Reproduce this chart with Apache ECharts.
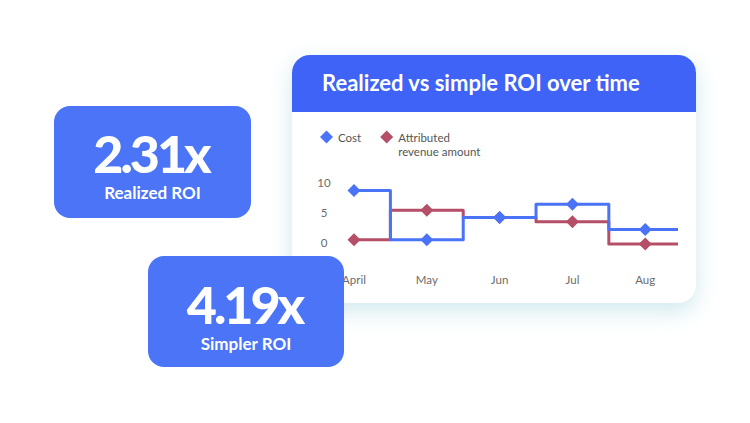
<!DOCTYPE html>
<html>
<head>
<meta charset="utf-8">
<script src="https://cdn.jsdelivr.net/npm/echarts@6/dist/echarts.min.js"></script>
<style>
  html, body { margin: 0; padding: 0; background: #ffffff; }
  body { width: 750px; height: 423px; position: relative; overflow: hidden; font-family: Lato, "Open Sans", sans-serif; }
  .panel {
    position: absolute; left: 292px; top: 55px; width: 404px; height: 248px;
    background: #ffffff; border-radius: 18px; overflow: hidden;
    box-shadow: 0 8px 22px rgba(150, 205, 215, 0.45);
  }
  .panel-head {
    position: absolute; left: 0; top: 0; width: 100%; height: 57px; background: #3e63f6;
  }
  .panel-head span {
    position: absolute; left: 30px; top: 14px; color: #ffffff;
    font-weight: 700; font-size: 22px; line-height: 28px; white-space: nowrap;
  }
  #chart { position: absolute; left: 0; top: 0; width: 750px; height: 423px; }
  .kpi {
    position: absolute; background: #4b74f7; border-radius: 16px; color: #ffffff; text-align: center;
  }
  .kpi .num { position: absolute; left: 0; width: 100%; font-weight: 900; font-size: 52px; line-height: 46px; letter-spacing: -3px; text-indent: -3px; }
  .kpi .cap { position: absolute; left: 0; width: 100%; font-weight: 700; font-size: 17px; line-height: 22px; }
</style>
</head>
<body>
<div class="panel"><div class="panel-head"><span>Realized vs simple ROI over time</span></div></div>
<div id="chart"></div>
<div class="kpi" style="left:54px;top:106px;width:197px;height:112px;">
  <div class="num" style="top:24px;">2.31x</div>
  <div class="cap" style="top:76px;">Realized ROI</div>
</div>
<div class="kpi" style="left:148px;top:256px;width:196px;height:111px;">
  <div class="num" style="top:25px;">4.19x</div>
  <div class="cap" style="top:77px;">Simpler ROI</div>
</div>
<script>
// Monthly values plotted as step lines
const months = ['April', 'May', 'Jun', 'Jul', 'Aug'];
const costValues = [8.7, 0.5, 4.2, 6.4, 2.2];
const revenueValues = [0.5, 5.4, 4.2, 3.5, -0.2];
const yTicks = [0, 5, 10];
const seriesNames = ['Cost', 'Attributed revenue amount'];

const X_END = 4.45; // the steps run on half a month past the last point

function stepData(values) {
  const pts = values.map((v, i) => [i, v]);
  pts.push({ value: [X_END, values[values.length - 1]], symbol: 'none' });
  return pts;
}

const chart = echarts.init(document.getElementById('chart'), null, { renderer: 'svg' });
chart.setOption({
  backgroundColor: 'transparent',
  animation: false,
  legend: {
    left: 320, top: 116, orient: 'horizontal', padding: 0,
    icon: 'diamond', itemWidth: 13, itemHeight: 13, itemGap: 19,
    textStyle: { fontFamily: 'Lato', fontSize: 11.5, color: '#555555', lineHeight: 14 },
    // the long name wraps under its marker: a blank first line keeps
    // the marker level with "Attributed"
    formatter: name => name === seriesNames[1] ? '\nAttributed\nrevenue amount' : name,
    data: seriesNames
  },
  grid: { left: 354, top: 182.7, width: 324, height: 60, containLabel: false },
  xAxis: {
    type: 'value', min: 0, max: X_END, interval: 1,
    axisLine: { show: false }, axisTick: { show: false }, splitLine: { show: false },
    axisLabel: {
      margin: 31, color: '#6b6b6b', fontFamily: 'Lato', fontSize: 11.5,
      formatter: v => (Number.isInteger(v) && months[v]) ? months[v] : ''
    }
  },
  yAxis: {
    type: 'value', min: 0, max: 10, interval: 5,
    axisLine: { show: false }, axisTick: { show: false }, splitLine: { show: false },
    axisLabel: {
      margin: 30, align: 'center', color: '#6b6b6b', fontFamily: 'Lato', fontSize: 11.5,
      formatter: v => yTicks.includes(v) ? String(v) : ''
    }
  },
  series: [
    {
      name: seriesNames[1], type: 'line', step: 'middle', clip: false,
      data: stepData(revenueValues),
      symbol: 'diamond', symbolSize: 13,
      lineStyle: { width: 3, color: '#b54e67', join: 'round' },
      itemStyle: { color: '#b54e67' }
    },
    {
      name: seriesNames[0], type: 'line', step: 'middle', clip: false,
      data: stepData(costValues),
      symbol: 'diamond', symbolSize: 13,
      lineStyle: { width: 3, color: '#4a73f8', join: 'round' },
      itemStyle: { color: '#4a73f8' }
    }
  ]
});
</script>
</body>
</html>
